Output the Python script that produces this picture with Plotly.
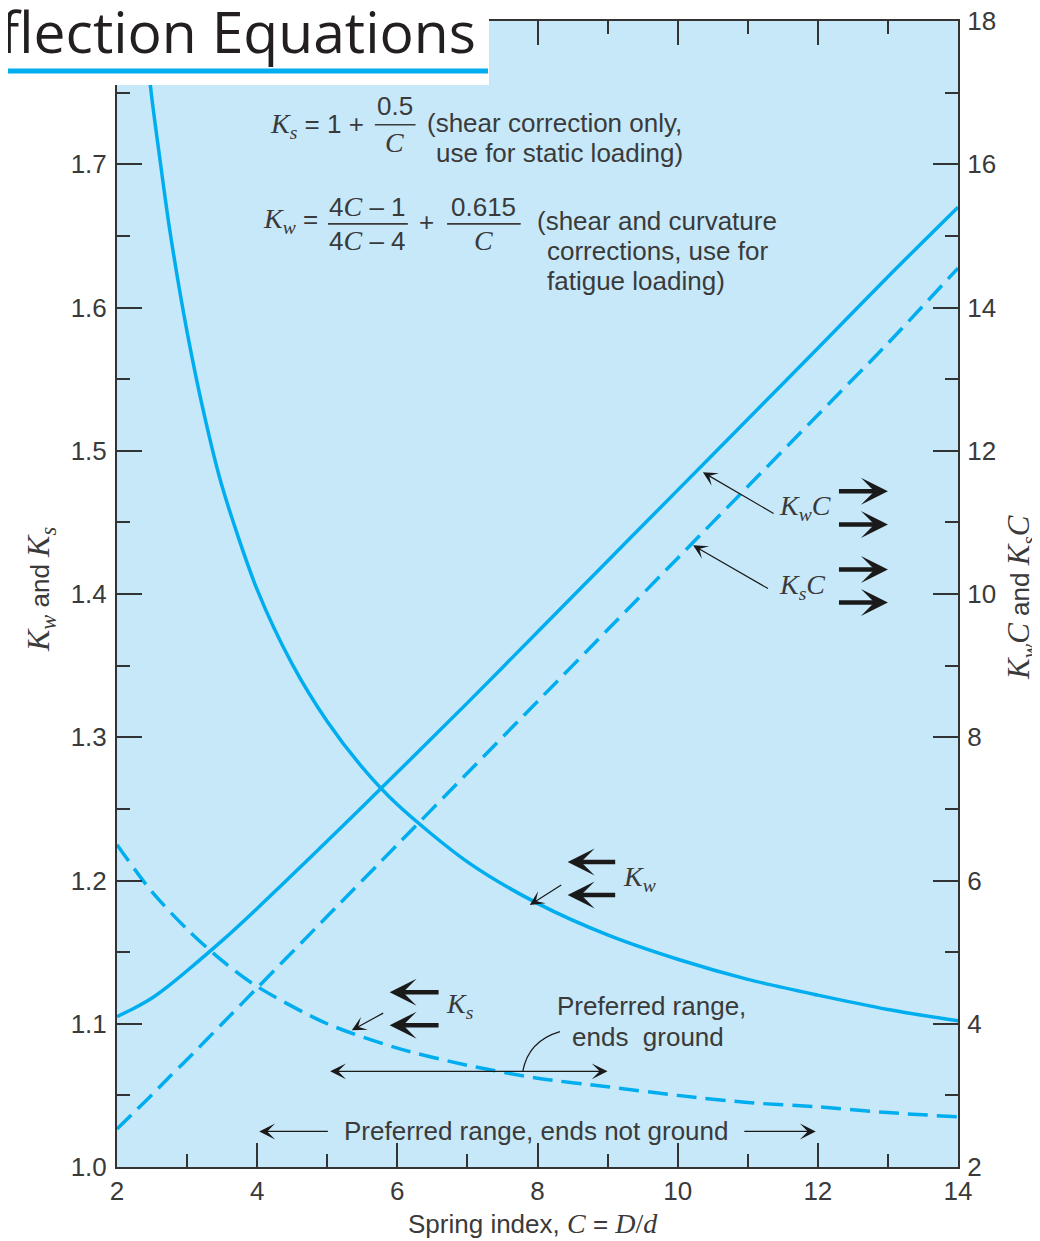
import plotly.graph_objects as go

# ---------------- data ----------------
C_kw = [2.4, 2.5, 2.6, 2.75, 3.0, 3.25, 3.5, 4.0, 4.5, 5.0, 5.5, 6.0, 7.0, 8.0, 9.0, 10.0, 11.0, 12.0, 13.0, 14.0]
Kw = [1.79, 1.745, 1.708, 1.655, 1.583, 1.524, 1.475, 1.403, 1.351, 1.311, 1.279, 1.253, 1.213, 1.184, 1.162,
      1.145, 1.131, 1.12, 1.11, 1.102]

C_ks = [2.0, 2.5, 3.0, 3.5, 4.0, 5.0, 6.0, 7.0, 8.0, 9.0, 10.0, 11.0, 12.0, 13.0, 14.0]
Ks = [1.225, 1.192, 1.166, 1.144, 1.126, 1.10, 1.083, 1.071, 1.062, 1.056, 1.05, 1.045, 1.042, 1.038, 1.035]

C_lin = [2, 2.25, 2.5, 2.75, 3, 3.5, 4, 5, 6, 7, 8, 9, 10, 11, 12, 13, 14]
KwC = [4.1, 4.22, 4.36, 4.54, 4.74, 5.16, 5.61, 6.55, 7.51, 8.48, 9.47, 10.46, 11.45, 12.44, 13.43, 14.43, 15.4]
KsC = [2.53, 2.77, 3.01, 3.26, 3.5, 4.0, 4.5, 5.5, 6.5, 7.5, 8.5, 9.5, 10.5, 11.5, 12.5, 13.5, 14.55]

x_ticks = [2, 4, 6, 8, 10, 12, 14]
left_ticks = [1.0, 1.1, 1.2, 1.3, 1.4, 1.5, 1.6, 1.7]
left_labels = ["1.0", "1.1", "1.2", "1.3", "1.4", "1.5", "1.6", "1.7"]
right_ticks = [2, 4, 6, 8, 10, 12, 14, 16, 18]

# ---------------- styles ----------------
OFF = 8                      # default page margin of the html body
W, H = 1040 - OFF, 1241 - OFF
ML, MR, MT, MB = 117 - OFF, 82, 21 - OFF, 74
PW, PH = W - ML - MR, H - MT - MB
BLUE = "#00aeef"
BG = "#c7e8f9"
AX = "#333333"
TXT = "#3a3a3a"
SANS = "Liberation Sans, Arial, sans-serif"
SERIF = "Liberation Serif, Times New Roman, serif"
FS = 26


def px(x):  # page pixel -> paper
    return (x - OFF - ML) / PW


def py(y):
    return (H - MB - (y - OFF)) / PH


def ser(s, size=28):
    return '<span style="font-family:%s;font-size:%dpx">%s</span>' % (SERIF, size, s)


fig = go.Figure()
fig.add_trace(go.Scatter(x=C_kw, y=Kw, mode="lines", line=dict(color=BLUE, width=3.5, shape="spline", smoothing=0.8),
                         yaxis="y", showlegend=False, hoverinfo="skip"))
fig.add_trace(go.Scatter(x=C_ks, y=Ks, mode="lines",
                         line=dict(color=BLUE, width=3.5, shape="spline", smoothing=0.8, dash="20px,9px"),
                         yaxis="y", showlegend=False, hoverinfo="skip"))
fig.add_trace(go.Scatter(x=C_lin, y=KwC, mode="lines", line=dict(color=BLUE, width=3.5, shape="spline", smoothing=0.8),
                         yaxis="y2", showlegend=False, hoverinfo="skip"))
fig.add_trace(go.Scatter(x=C_lin, y=KsC, mode="lines",
                         line=dict(color=BLUE, width=3.5, shape="spline", smoothing=0.8, dash="20px,9px"),
                         yaxis="y2", showlegend=False, hoverinfo="skip"))

tickfont = dict(family=SANS, size=FS, color=TXT)

fig.update_layout(
    width=W, height=H,
    margin=dict(l=ML, r=MR, t=MT, b=MB, autoexpand=False),
    paper_bgcolor="white", plot_bgcolor=BG,
    xaxis=dict(range=[2, 14], tickvals=x_ticks, ticks="inside", ticklen=24, tickwidth=1.5, tickcolor=AX,
               minor=dict(dtick=1, ticks="inside", ticklen=13, tickwidth=1.5, tickcolor=AX),
               showline=True, linecolor=AX, linewidth=2, mirror="ticks", showgrid=False, zeroline=False,
               tickfont=tickfont, ticklabelstandoff=0, automargin=False, ticklabeloverflow="allow"),
    yaxis=dict(range=[1.0, 1.8], tickvals=left_ticks, ticktext=left_labels, ticks="inside", ticklen=25,
               tickwidth=1.5, tickcolor=AX,
               minor=dict(dtick=0.05, ticks="inside", ticklen=13, tickwidth=1.5, tickcolor=AX),
               showline=True, linecolor=AX, linewidth=2, showgrid=False, zeroline=False,
               tickfont=tickfont, ticklabelstandoff=3, automargin=False, ticklabeloverflow="allow"),
    yaxis2=dict(range=[2, 18], tickvals=right_ticks, ticks="inside", ticklen=25, tickwidth=1.5, tickcolor=AX,
                minor=dict(dtick=1, ticks="inside", ticklen=13, tickwidth=1.5, tickcolor=AX),
                showline=True, linecolor=AX, linewidth=2, showgrid=False, zeroline=False,
                overlaying="y", side="right", tickfont=tickfont, ticklabelstandoff=2, automargin=False,
                ticklabeloverflow="allow"),
)

ann = []


def text(x, y, s, xanchor="left", size=FS, ref="data", **kw):
    d = dict(x=x, y=y, text=s, showarrow=False, xanchor=xanchor, yanchor="middle",
             font=dict(family=SANS, size=size, color=TXT))
    if ref == "data":
        d.update(xref="x", yref="y")
    else:
        d.update(xref="paper", yref="paper")
    d.update(kw)
    ann.append(d)


def arrow(x_head, y_head, x_tail, y_tail, width=1.2, size=2.0, head=3, side="end"):
    ann.append(dict(x=x_head, y=y_head, ax=x_tail, ay=y_tail, xref="x", yref="y", axref="x", ayref="y",
                    text="", showarrow=True, arrowhead=head, startarrowhead=head, arrowsize=size,
                    startarrowsize=size, arrowwidth=width, arrowcolor="#1a1a1a", arrowside=side,
                    standoff=0, startstandoff=0))


# Ks formula
text(4.15, 1.727, ser("<i>K</i><sub><i>s</i></sub>") + " = 1 +")
text(5.966, 1.7405, "0.5", xanchor="center")
text(5.966, 1.7155, ser("<i>C</i>"), xanchor="center")
text(6.39, 1.729, "(shear correction only,")
text(6.52, 1.708, "use for static loading)")

# Kw formula
text(4.06, 1.6605, ser("<i>K</i><sub><i>w</i></sub>") + " =")
text(5.58, 1.6705, "4" + ser("<i>C</i>") + " \u2013 1", xanchor="center")
text(5.58, 1.6465, "4" + ser("<i>C</i>") + " \u2013 4", xanchor="center")
text(6.41, 1.6598, "+", xanchor="center")
text(7.235, 1.6705, "0.615", xanchor="center")
text(7.235, 1.6465, ser("<i>C</i>"), xanchor="center")
text(7.96, 1.6605, "(shear and curvature")
text(8.10, 1.6395, "corrections, use for")
text(8.10, 1.6185, "fatigue loading)")

shapes = []
for x0, x1, y in [(5.68, 6.26, 1.7276), (5.01, 6.15, 1.6584), (6.71, 7.76, 1.6584)]:
    shapes.append(dict(type="line", xref="x", yref="y", x0=x0, x1=x1, y0=y, y1=y,
                       line=dict(color=TXT, width=1.6)))

# curve labels
text(11.82, 1.4605, ser("<i>K</i><sub><i>w</i></sub><i>C</i>"), xanchor="center")
text(11.77, 1.4053, ser("<i>K</i><sub><i>s</i></sub><i>C</i>"), xanchor="center")
text(9.46, 1.2017, ser("<i>K</i><sub><i>w</i></sub>"), xanchor="center")
text(6.89, 1.1129, ser("<i>K</i><sub><i>s</i></sub>"), xanchor="center")

# thin leader arrows
arrow(10.36, 1.485, 11.39, 1.4556, width=1.2, size=2.0)
arrow(10.22, 1.434, 11.31, 1.4032, width=1.2, size=2.0)
arrow(7.89, 1.1829, 8.36, 1.1976, width=1.2, size=2.0)
arrow(5.35, 1.0955, 5.82, 1.108, width=1.2, size=2.0)

# thick direction arrows
for y in (1.4717, 1.4486, 1.4171, 1.3941):
    arrow(13.0, y, 12.28, y, width=4.5, size=1.0)
for y in (1.2129, 1.1899):
    arrow(8.43, y, 9.13, y, width=4.5, size=1.0)
for y in (1.1220, 1.0990):
    arrow(5.89, y, 6.61, y, width=4.5, size=1.0)

# preferred ranges
text(9.63, 1.1122, "Preferred range,", xanchor="center")
text(9.58, 1.0906, "ends  ground", xanchor="center")
arrow(9.0, 1.0668, 5.02, 1.0668, width=1.2, size=2.2, side="end+start")
shapes.append(dict(type="path", xref="x", yref="y",
                   path="M 7.79,1.0668 Q 7.87,1.088 8.32,1.0945",
                   line=dict(color="#1a1a1a", width=1.2)))
text(7.98, 1.0248, "Preferred range, ends not ground", xanchor="center")
arrow(4.03, 1.0248, 5.03, 1.0248, width=1.2, size=2.2)
arrow(11.97, 1.0248, 10.93, 1.0248, width=1.2, size=2.2)

# axis titles
text(px(40), py(590), ser("<i>K</i><sub><i>w</i></sub>", 32) + " and " + ser("<i>K</i><sub><i>s</i></sub>", 32),
     xanchor="center", ref="paper", textangle=-90)
text(px(1021), py(597), ser("<i>K</i><sub><i>w</i></sub><i>C</i>", 31) + " and " + ser("<i>K</i><sub><i>s</i></sub><i>C</i>", 31),
     xanchor="center", ref="paper", textangle=-90)
text(px(533), py(1223), "Spring index, " + ser("<i>C</i>", 28) + " = " + ser("<i>D</i>/<i>d</i>", 28),
     xanchor="center", ref="paper")

# cropped page heading
shapes.append(dict(type="rect", xref="paper", yref="paper", x0=px(0), x1=px(489), y0=py(85), y1=py(0),
                   fillcolor="white", line=dict(width=0), layer="above"))
shapes.append(dict(type="line", xref="paper", yref="paper", x0=px(0), x1=px(488), y0=py(71), y1=py(71),
                   line=dict(color=BLUE, width=5), layer="above"))
ann.append(dict(x=px(478), y=py(31), xref="paper", yref="paper", text="flection Equations", showarrow=False,
                xanchor="right", yanchor="middle", font=dict(family="Open Sans, Lato, sans-serif", size=57,
                                                             color="#231f20")))

fig.update_layout(annotations=ann, shapes=shapes)
fig.write_html("out.html")
